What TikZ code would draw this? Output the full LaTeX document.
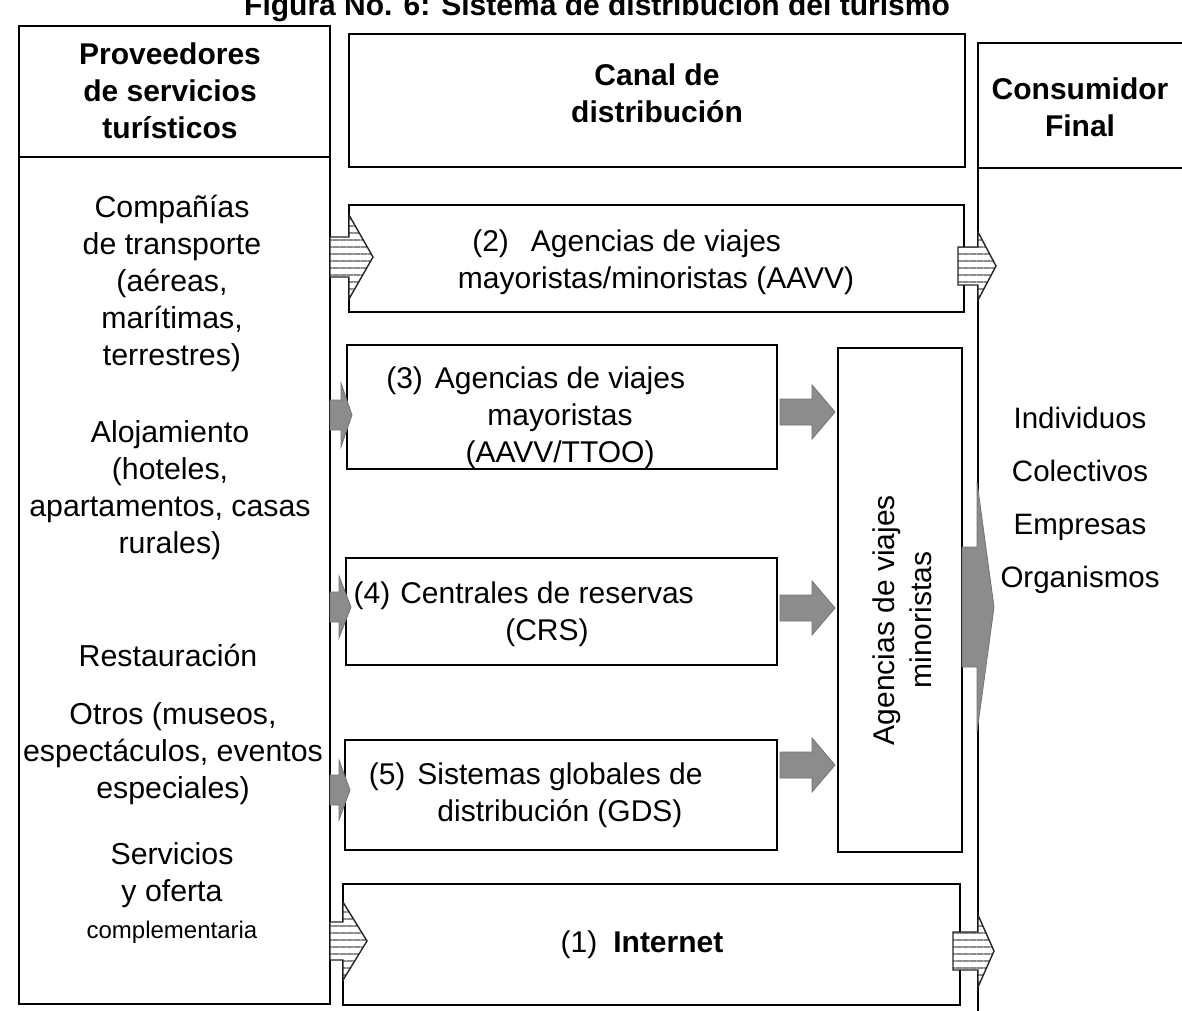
\documentclass[tikz,border=0pt]{standalone}
\usepackage{fontspec}
\setmainfont{Liberation Sans}
\usetikzlibrary{patterns.meta}
\newcommand\blockarr[7]{\draw[#1] ({#2},{#5-#6}) -- ({#3},{#5-#6}) -- ({#3},{#5-#7}) -- ({#4},{#5}) -- ({#3},{#5+#7}) -- ({#3},{#5+#6}) -- ({#2},{#5+#6}) -- cycle;}
\begin{document}
\begin{tikzpicture}[x=1pt,y=-1pt,
  box/.style={draw=black,line width=2.2pt},
  body/.style={font=\fontsize{30}{37}\selectfont,align=center,inner sep=0pt},
  prov/.style={font=\fontsize{30.3}{37}\selectfont,align=center,inner sep=0pt},
  head/.style={font=\fontsize{30}{37}\selectfont\bfseries,align=center,inner sep=0pt},
  striped/.style={draw=black!85,line width=1.4pt,preaction={fill=white},
    pattern={Lines[angle=0,distance=7pt,line width=1.6pt]},pattern color=black!45},
  grayarrow/.style={draw=black!55,line width=0.8pt,fill=black!45},
]
\useasboundingbox (0,0) rectangle (1182,1010);
% title
\node[font=\fontsize{30}{36}\selectfont\bfseries,anchor=base,inner sep=0pt] (title) at (597,15) {Figura No. 6: Sistema de distribución del turismo};
% left column
\draw[box] (19,26) rectangle (330,1004);
\draw[box] (19,157) -- (330,157);
% middle header
\draw[box] (349,34) rectangle (965,167);
% right header and column
\draw[box] (978,43) rectangle (1195,168);
\draw[box] (978,168) -- (978,1015);
% channel boxes
\draw[box] (349,205) rectangle (964,312);
\draw[box] (347,345) rectangle (777,469);
\draw[box] (346,558) rectangle (777,665);
\draw[box] (345,740) rectangle (777,850);
\draw[box] (838,348) rectangle (962,852);
\draw[box] (343,884) rectangle (960,1005);
% striped arrows
\blockarr{striped}{330}{349}{373}{257}{20}{42}
\blockarr{striped}{958}{978}{996}{266}{19}{34}
\blockarr{striped}{330}{343}{367}{941}{19}{39}
\blockarr{striped}{953}{978}{994}{951}{19}{36}
% gray arrows left
\blockarr{grayarrow}{330}{341}{352}{415}{15}{32}
\blockarr{grayarrow}{330}{339}{351}{607}{15}{31}
\blockarr{grayarrow}{330}{339}{350}{790}{15}{30}
% gray arrows to retail box
\blockarr{grayarrow}{780}{812}{835}{412}{13}{27}
\blockarr{grayarrow}{780}{812}{835}{608}{13}{27}
\blockarr{grayarrow}{780}{812}{835}{765}{13}{27}
% big arrow to consumer
\blockarr{grayarrow}{962}{977}{994}{607}{60}{125}
% headers
\node[head] (hprov) at (170,91) {Proveedores\\de servicios\\turísticos};
\node[head] (hcanal) at (657,93) {Canal de\\distribución};
\node[head] (hcons) at (1080,107) {Consumidor\\Final};
% providers
\node[prov] (prov1) at (172,283) {Compañías\\de transporte\\(aéreas,\\marítimas,\\terrestres)};
\node[prov] (prov2) at (170,490) {Alojamiento\\(hoteles,\\apartamentos, casas\\rurales)};
\node[prov] (prov3) at (168,655) {Restauración};
\node[prov] (prov4) at (173,754) {Otros (museos,\\espectáculos, eventos\\especiales)};
\node[prov] (prov5) at (172,893) {Servicios\\y oferta\\{\fontsize{24}{35}\selectfont complementaria}};
% channel texts
\node[body] (t2) at (656,262) {\llap{(2)\hspace{22pt}}Agencias de viajes\\mayoristas/minoristas (AAVV)};
\node[body] (t3) at (560,418) {\llap{(3)\hspace{12pt}}Agencias de viajes\\mayoristas\\(AAVV/TTOO)};
\node[body] (t4) at (547,614) {\llap{(4)\hspace{10pt}}Centrales de reservas\\(CRS)};
\node[body] (t5) at (560,795) {\llap{(5)\hspace{12pt}}Sistemas globales de\\distribución (GDS)};
\node[body] (t1) at (642,945) {(1)\hspace{16pt}\textbf{Internet}};
\node[body,rotate=90] (tr) at (902,620) {Agencias de viajes\\minoristas};
% consumers
\node[body,font=\fontsize{29.5}{53}\selectfont] (cons) at (1080,500) {Individuos\\Colectivos\\Empresas\\Organismos};
\end{tikzpicture}
\end{document}
